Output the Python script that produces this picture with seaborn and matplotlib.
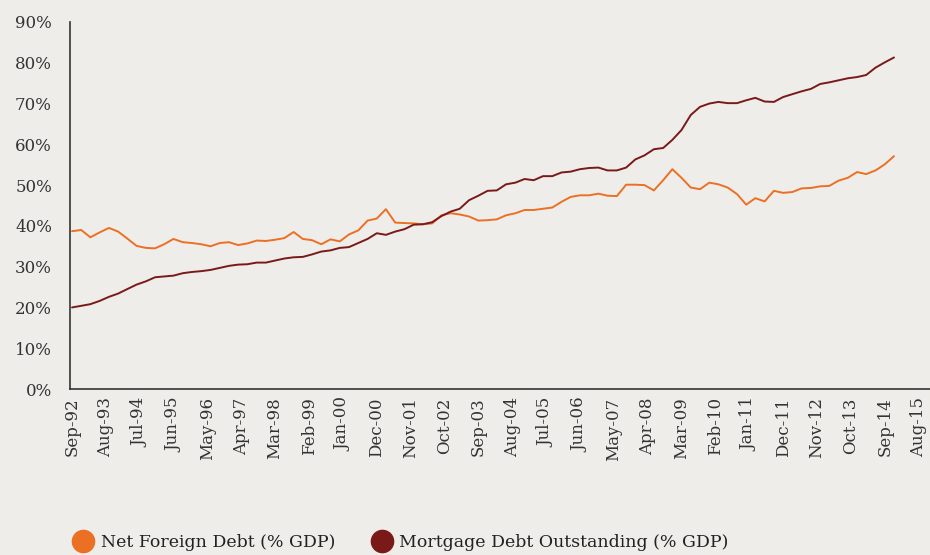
import pandas as pd
import seaborn as sns
import matplotlib
matplotlib.use("Agg")
import matplotlib.pyplot as plt
import matplotlib.dates as mdates
import matplotlib.ticker as ticker
from matplotlib.lines import Line2D

# --------------------------------------------------------------------------
# Data (quarterly, Sep-92 .. Dec-14, % of GDP)
# --------------------------------------------------------------------------

START = "1992-09-01"

NET_FOREIGN = [
    38.7, 39.0, 37.2, 38.4, 39.5, 38.6, 36.9, 35.1, 34.6, 34.5, 35.5, 36.8, 36.0, 35.8, 35.5, 35.0,
    35.8, 36.0, 35.3, 35.7, 36.4, 36.3, 36.6, 37.0, 38.5, 36.8, 36.5, 35.5, 36.7, 36.2, 37.9, 38.9,
    41.3, 41.8, 44.1, 40.8, 40.7, 40.6, 40.4, 40.6, 42.6, 43.1, 42.8, 42.3, 41.3, 41.4, 41.6,
    42.6, 43.1, 43.9, 43.9, 44.2, 44.5, 45.9, 47.1, 47.5, 47.5, 47.9, 47.4, 47.3, 50.1, 50.1, 50.0,
    48.7, 51.2, 53.9, 51.8, 49.4, 49.0, 50.6, 50.2, 49.4, 47.8, 45.2, 46.8, 46.0, 48.6, 48.1, 48.3,
    49.2, 49.3, 49.7, 49.8, 51.1, 51.8, 53.2, 52.7, 53.6, 55.1, 57.1,
]

MORTGAGE = [
    20.0, 20.4, 20.8, 21.6, 22.6, 23.4, 24.5, 25.6, 26.4, 27.4, 27.6, 27.8, 28.4, 28.7, 28.9, 29.2,
    29.7, 30.2, 30.5, 30.6, 31.0, 31.0, 31.5, 32.0, 32.3, 32.4, 33.0, 33.7, 34.0, 34.6, 34.8, 35.8,
    36.8, 38.2, 37.8, 38.6, 39.2, 40.3, 40.4, 40.9, 42.4, 43.5, 44.2, 46.3, 47.4, 48.6, 48.7,
    50.2, 50.6, 51.5, 51.2, 52.2, 52.2, 53.1, 53.3, 53.9, 54.2, 54.3, 53.6, 53.6, 54.3, 56.3, 57.3,
    58.8, 59.1, 61.1, 63.5, 67.2, 69.2, 70.0, 70.4, 70.1, 70.1, 70.8, 71.4, 70.5, 70.4, 71.6, 72.3,
    73.0, 73.6, 74.8, 75.2, 75.7, 76.2, 76.5, 77.0, 78.8, 80.1, 81.3,
]

SERIES = ["Net Foreign Debt (% GDP)", "Mortgage Debt Outstanding (% GDP)"]
COLOURS = ["#EC7024", "#7A1A18"]
Y_TICKS = list(range(0, 91, 10))
TICK_START, TICK_END = "1992-09-01", "2015-08-01"

BG = "#EEEDEA"
INK = "#333333"

# --------------------------------------------------------------------------
# Build frame
# --------------------------------------------------------------------------

dates = pd.date_range(START, periods=len(MORTGAGE), freq="3MS")
df = pd.concat([
    pd.DataFrame({"date": dates, "value": NET_FOREIGN, "series": SERIES[0]}),
    pd.DataFrame({"date": dates, "value": MORTGAGE, "series": SERIES[1]}),
])

# --------------------------------------------------------------------------
# Plot
# --------------------------------------------------------------------------

sns.set_style("white")
plt.rcParams["font.family"] = ["DejaVu Serif"]

fig = plt.figure(figsize=(9.3, 5.55), dpi=100, facecolor=BG)
ax = fig.add_axes([70 / 930, 166 / 555, 860 / 930, 367 / 555])
ax.set_facecolor(BG)

sns.lineplot(df, x="date", y="value", hue="series", hue_order=SERIES,
             palette=COLOURS, linewidth=1.4, legend=False, ax=ax)

ax.set_ylim(0, 90)
ax.set_yticks(Y_TICKS)
ax.yaxis.set_major_formatter(ticker.FuncFormatter(lambda v, pos: f"{v:.0f}%"))

ax.set_xlim(pd.Timestamp("1992-08-12"), pd.Timestamp("2015-11-22"))
ax.set_xticks(pd.date_range(TICK_START, TICK_END, freq="11MS"))
ax.xaxis.set_major_formatter(mdates.DateFormatter("%b-%y"))

ax.set_xlabel("")
ax.set_ylabel("")
ax.tick_params(axis="both", length=0, colors=INK, labelsize=12)
ax.tick_params(axis="y", pad=13)
ax.tick_params(axis="x", pad=6, labelrotation=90)

for side in ("top", "right"):
    ax.spines[side].set_visible(False)
for side in ("left", "bottom"):
    ax.spines[side].set_color(INK)
    ax.spines[side].set_linewidth(1.2)

handles = [Line2D([], [], ls="", marker="o", markersize=16, color=c) for c in COLOURS]
fig.legend(handles, SERIES, loc="center", ncol=2, frameon=False,
           bbox_to_anchor=(0.432, 0.023), fontsize=12.5, handlelength=1.0,
           handletextpad=0.5, columnspacing=2.2, labelcolor="#222222")

fig.savefig("out.png", dpi=100, facecolor=BG)
